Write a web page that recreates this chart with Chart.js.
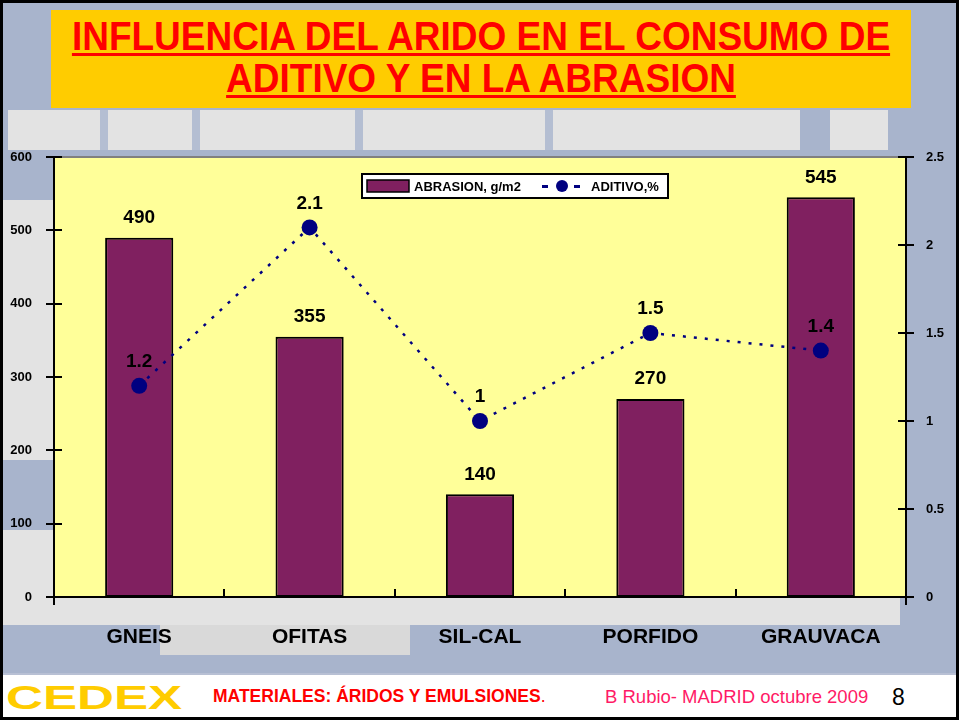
<!DOCTYPE html>
<html>
<head>
<meta charset="utf-8">
<script src="https://cdn.jsdelivr.net/npm/chart.js@4.4.1/dist/chart.umd.min.js"></script>
<style>
  html, body { margin: 0; padding: 0; }
  body { width: 959px; height: 720px; position: relative; overflow: hidden; background: #a8b4cc; font-family: Arial, "Liberation Sans", sans-serif; }
  .bg { position: absolute; background: #e3e3e3; }
  #frame { position: absolute; left: 0; top: 0; width: 953px; height: 714px; border: 3px solid #000; z-index: 5; pointer-events: none; }
  #title { position: absolute; left: 51px; top: 10px; width: 860px; height: 98px; background: #ffcc00; z-index: 2; overflow: hidden; }
  #title div { position: absolute; left: -70px; width: 1000px; white-space: nowrap; text-align: center; color: #ff0000; font-weight: bold; font-size: 40px; line-height: 44px; transform: scaleX(0.925); }
  #title span { text-decoration: underline; text-decoration-thickness: 3px; text-underline-offset: 3px; }
  #footer { position: absolute; left: 3px; top: 673px; width: 953px; height: 44px; background: #fff; z-index: 2; border-top: 2px solid #b8c0d4; }
  #logo { position: absolute; left: 3px; top: 4px; color: #ffcc00; font-weight: 900; font-size: 33px; letter-spacing: 0px; transform: scaleX(1.55); transform-origin: left; }
  #f1 { position: absolute; left: 210px; top: 11px; color: #ff0000; font-weight: bold; font-size: 17.5px; white-space: nowrap; }
  #f2 { position: absolute; left: 602px; top: 11px; color: #ff1a66; font-size: 18.5px; white-space: nowrap; }
  #f3 { position: absolute; left: 889px; top: 9px; color: #000; font-size: 23px; }
  #wrap { position: absolute; left: 0; top: 0; width: 959px; height: 720px; z-index: 3; }
</style>
</head>
<body>
<div class="bg" style="left:8px; top:110px; width:880px; height:40px;"></div>
<div class="bg" style="left:0; top:200px; width:60px; height:260px;"></div>
<div class="bg" style="left:0; top:530px; width:60px; height:80px;"></div>
<div class="bg" style="left:0; top:597px; width:900px; height:28px;"></div>
<div class="bg" style="left:160px; top:625px; width:250px; height:30px; background:#d9d9d9;"></div>
<div class="bg" style="left:100px; top:110px; width:8px; height:40px; background:#b4bed2;"></div>
<div class="bg" style="left:192px; top:110px; width:8px; height:40px; background:#b4bed2;"></div>
<div class="bg" style="left:355px; top:110px; width:8px; height:40px; background:#b4bed2;"></div>
<div class="bg" style="left:545px; top:110px; width:8px; height:40px; background:#b4bed2;"></div>
<div class="bg" style="left:800px; top:110px; width:30px; height:40px; background:#a8b4cc;"></div>

<div id="title">
  <div style="top:4px;"><span>INFLUENCIA DEL ARIDO EN EL CONSUMO DE</span></div>
  <div style="top:46px;"><span>ADITIVO Y EN LA ABRASION</span></div>
</div>
<div id="wrap"><canvas id="canvas" width="959" height="720"></canvas></div>
<div id="footer">
  <div id="logo">CEDEX</div>
  <div id="f1">MATERIALES: ÁRIDOS Y EMULSIONES<span style="font-weight:normal">.</span></div>
  <div id="f2">B Rubio- MADRID octubre 2009</div>
  <div id="f3">8</div>
</div>
<div id="frame"></div>

<script>
var categories = ['GNEIS', 'OFITAS', 'SIL-CAL', 'PORFIDO', 'GRAUVACA'];
var abrasion = [490, 355, 140, 270, 545];
var aditivo = [1.2, 2.1, 1, 1.5, 1.4];
var leftTicks = [0, 100, 200, 300, 400, 500, 600];
var rightTicks = [0, 0.5, 1, 1.5, 2, 2.5];

var barColor = '#802060';
var lineColor = '#000080';

// fondo amarillo del area de trazado
var plotBg = {
  id: 'plotBg',
  beforeDraw: function(chart) {
    var a = chart.chartArea, ctx = chart.ctx;
    ctx.save();
    ctx.fillStyle = '#ffff99';
    ctx.fillRect(a.left, a.top, a.right - a.left, a.bottom - a.top);
    ctx.strokeStyle = '#808080';
    ctx.lineWidth = 2;
    ctx.beginPath();
    ctx.moveTo(a.left, a.top);
    ctx.lineTo(a.right, a.top);
    ctx.stroke();
    ctx.restore();
  }
};

// marcas de los ejes, etiquetas de datos y leyenda
var extras = {
  id: 'extras',
  afterDatasetsDraw: function(chart) {
    var ctx = chart.ctx, a = chart.chartArea;
    var yl = chart.scales.y, yr = chart.scales.y1;
    ctx.save();
    ctx.strokeStyle = '#000';
    ctx.lineWidth = 2;
    ctx.beginPath();
    leftTicks.forEach(function(v) {
      var p = Math.round(yl.getPixelForValue(v));
      ctx.moveTo(a.left - 8, p); ctx.lineTo(a.left + 8, p);
    });
    rightTicks.forEach(function(v) {
      var p = Math.round(yr.getPixelForValue(v));
      ctx.moveTo(a.right - 8, p); ctx.lineTo(a.right + 8, p);
    });
    var w = (a.right - a.left) / categories.length;
    for (var i = 1; i < categories.length; i++) {
      var px = Math.round(a.left + w * i);
      ctx.moveTo(px, a.bottom); ctx.lineTo(px, a.bottom - 8);
    }
    ctx.moveTo(a.left, a.bottom - 8); ctx.lineTo(a.left, a.bottom + 8);
    ctx.moveTo(a.right, a.bottom - 8); ctx.lineTo(a.right, a.bottom + 8);
    ctx.stroke();

    ctx.fillStyle = '#000';
    ctx.font = 'bold 19px Arial, "Liberation Sans"';
    ctx.textAlign = 'center';
    ctx.textBaseline = 'middle';
    chart.getDatasetMeta(1).data.forEach(function(el, i) {
      ctx.fillText(String(abrasion[i]), el.x, el.y - 20);
    });
    chart.getDatasetMeta(0).data.forEach(function(el, i) {
      ctx.fillText(String(aditivo[i]), el.x, el.y - 24);
    });

    // leyenda
    var lx = 362, ly = 174, lw = 306, lh = 24;
    ctx.fillStyle = '#fff';
    ctx.fillRect(lx, ly, lw, lh);
    ctx.lineWidth = 2;
    ctx.strokeRect(lx, ly, lw, lh);
    ctx.fillStyle = barColor;
    ctx.fillRect(lx + 5, ly + 6, 42, 12);
    ctx.lineWidth = 1.5;
    ctx.strokeRect(lx + 5, ly + 6, 42, 12);
    ctx.fillStyle = '#000';
    ctx.font = 'bold 13px Arial, "Liberation Sans"';
    ctx.textAlign = 'left';
    ctx.fillText('ABRASION, g/m2', lx + 52, ly + 13);
    ctx.fillStyle = lineColor;
    ctx.fillRect(lx + 180, ly + 11, 6, 3);
    ctx.fillRect(lx + 212, ly + 11, 6, 3);
    ctx.beginPath();
    ctx.ellipse(lx + 200, ly + 12, 6, 6, 0, 0, Math.PI * 2);
    ctx.fill();
    ctx.fillStyle = '#000';
    ctx.fillText('ADITIVO,%', lx + 229, ly + 13);
    ctx.restore();
  }
};

var ctx = document.getElementById('canvas').getContext('2d');
window.myChart = new Chart(ctx, {
  data: {
    labels: categories,
    datasets: [{
      type: 'line',
      label: 'ADITIVO,%',
      data: aditivo,
      yAxisID: 'y1',
      borderColor: lineColor,
      backgroundColor: lineColor,
      borderWidth: 2.5,
      borderDash: [3, 8],
      pointRadius: 8,
      pointHoverRadius: 8,
      pointBorderWidth: 0,
      tension: 0,
      order: 0
    }, {
      type: 'bar',
      label: 'ABRASION, g/m2',
      data: abrasion,
      yAxisID: 'y',
      backgroundColor: barColor,
      borderColor: '#000',
      borderWidth: 2,
      borderSkipped: false,
      categoryPercentage: 1,
      barPercentage: 0.4,
      order: 1
    }]
  },
  options: {
    responsive: false,
    animation: false,
    layout: { padding: { left: 0, right: 0, top: 157, bottom: 73 } },
    plugins: { legend: { display: false }, tooltip: { enabled: false } },
    scales: {
      x: {
        offset: true,
        grid: { display: false },
        border: { display: true, color: '#000', width: 2 },
        ticks: { color: '#000', font: { family: 'Arial, "Liberation Sans"', weight: 'bold', size: 21 }, padding: 20, maxRotation: 0 },
        afterFit: function(s) { s.height = 50; }
      },
      y: {
        position: 'left',
        min: 0, max: 600,
        grid: { display: false },
        border: { display: true, color: '#000', width: 2 },
        ticks: { stepSize: 100, color: '#000', font: { family: 'Arial, "Liberation Sans"', weight: 'bold', size: 13 }, padding: 14 },
        afterFit: function(s) { s.width = 54; }
      },
      y1: {
        position: 'right',
        min: 0, max: 2.5,
        grid: { display: false },
        border: { display: true, color: '#000', width: 2 },
        ticks: {
          stepSize: 0.5, color: '#000', padding: 12,
          font: { family: 'Arial, "Liberation Sans"', weight: 'bold', size: 13 },
          callback: function(v) { return String(v); }
        },
        afterFit: function(s) { s.width = 53; }
      }
    }
  },
  plugins: [plotBg, extras]
});
</script>
</body>
</html>
